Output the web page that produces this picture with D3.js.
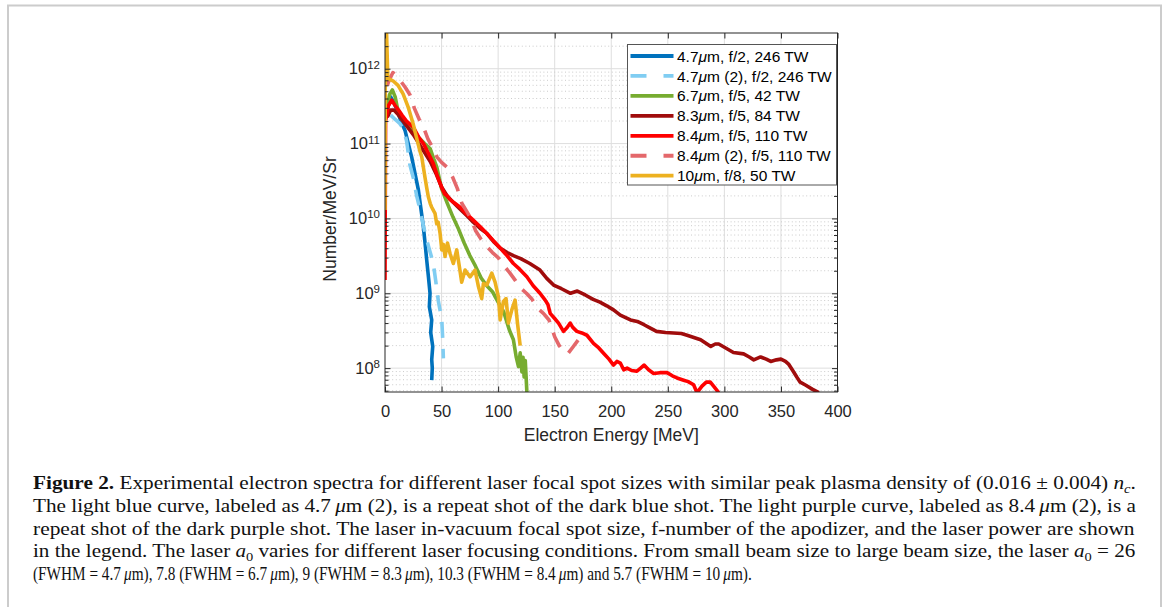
<!DOCTYPE html>
<html>
<head>
<meta charset="utf-8">
<script src="https://cdnjs.cloudflare.com/ajax/libs/d3/7.8.5/d3.min.js"></script>
<style>
  body { margin: 0; background: #fff; }
  svg { display: block; }
</style>
</head>
<body>
<div id="chart"></div>
<script>
(function(){
  'use strict';

  // tick values
  var xTicks = [0, 50, 100, 150, 200, 250, 300, 350, 400];
  var yTicks = [1e8, 1e9, 1e10, 1e11, 1e12];

  // legend labels, in plot order
  var seriesLabels = [
    '4.7μm, f/2, 246 TW',
    '4.7μm (2), f/2, 246 TW',
    '6.7μm, f/5, 42 TW',
    '8.3μm, f/5, 84 TW',
    '8.4μm, f/5, 110 TW',
    '8.4μm (2), f/5, 110 TW',
    '10μm, f/8, 50 TW'
  ];

  // electron energy [MeV] and Number/MeV/Sr
  var energy_47 = [2, 5, 8, 11, 14, 17.7, 20.6, 23.6, 26.5, 29.5, 31.6, 33.9, 35.4, 36.9, 38.5, 39.8, 39.2, 41.3, 40.4, 42.2, 41.3, 41.8, 41.3];
  var number_47 = [2.8e11, 4.2e11, 3.5e11, 2.7e11, 2.0e11, 1.5e11, 1.0e11, 6.6e10, 4.0e10, 2.4e10, 1.4e10, 7.8e9, 4.7e9, 2.75e9, 1.6e9, 1.0e9, 6.6e8, 4.4e8, 3.0e8, 1.95e8, 1.3e8, 1.0e8, 6.9e7];

  var energy_47b = [5, 9, 13, 16, 19, 22, 25, 28, 31, 34, 37, 40, 42.7, 45, 47.2, 49, 50.2, 51, 51.6];
  var number_47b = [2.4e11, 2.1e11, 1.86e11, 1.6e11, 1.1e11, 5.2e10, 3.5e10, 2.0e10, 1.3e10, 7.9e9, 5.1e9, 3.5e9, 2.5e9, 1.4e9, 7.8e8, 5.6e8, 4.4e8, 2.5e8, 1.35e8];

  var energy_67 = [1, 4, 6.5, 9, 12, 15, 20, 25, 30, 35, 40, 43, 45.7, 50, 55, 60, 65, 70, 75, 80, 85, 90, 95, 100, 105, 110, 113.5, 116, 118, 119.5, 121, 122, 123, 124, 125.5];
  var number_67 = [2.5e11, 4.5e11, 5.2e11, 4.2e11, 2.5e11, 2.1e11, 1.8e11, 1.5e11, 1.2e11, 1.0e11, 8.5e10, 6.3e10, 4.9e10, 2.5e10, 1.6e10, 1.05e10, 7.2e9, 4.7e9, 3.2e9, 2.3e9, 1.6e9, 1.26e9, 1.05e9, 7.6e8, 5.6e8, 3.2e8, 2.4e8, 1.4e8, 1.05e8, 1.6e8, 8.9e7, 1.4e8, 7.6e7, 1.26e8, 4.5e7];

  var energy_83 = [2, 5, 8, 12, 16, 20, 25, 30, 35, 40, 45, 50, 55, 60, 66, 72, 78, 84, 90, 96, 102, 108, 114, 120, 128, 137, 143, 149, 156, 164, 170, 177, 184, 190, 196, 202, 208, 217, 223, 229, 235, 240, 248, 255, 262, 267, 273, 279, 284, 288, 292, 295, 300, 308, 317, 322, 326, 332, 337, 341, 346, 350, 354, 357, 360, 364, 367, 372, 378, 383.5];
  var number_83 = [2.24e11, 2.8e11, 2.8e11, 2.4e11, 2.0e11, 1.66e11, 1.32e11, 1.0e11, 7.6e10, 5.75e10, 4.0e10, 2.63e10, 2.0e10, 1.66e10, 1.35e10, 1.1e10, 8.9e9, 7.4e9, 6.3e9, 4.9e9, 4.0e9, 3.5e9, 3.16e9, 2.9e9, 2.5e9, 2.04e9, 1.58e9, 1.29e9, 1.15e9, 1.0e9, 1.07e9, 9.5e8, 8.3e8, 7.6e8, 6.8e8, 6.0e8, 5.1e8, 4.4e8, 4.2e8, 3.8e8, 3.4e8, 3.1e8, 3.0e8, 2.95e8, 2.9e8, 2.75e8, 2.57e8, 2.4e8, 2.14e8, 1.95e8, 2.1e8, 2.1e8, 1.9e8, 1.62e8, 1.55e8, 1.41e8, 1.29e8, 1.41e8, 1.32e8, 1.23e8, 1.29e8, 1.32e8, 1.23e8, 1.12e8, 9.5e7, 7.6e7, 6.5e7, 5.9e7, 5.2e7, 4.7e7];

  var energy_84 = [0, 0.5, 3, 6, 9, 12, 15, 19, 25, 30, 34, 38, 42.7, 46, 48.7, 51, 53, 55, 57.5, 62, 66.4, 72, 78, 84, 90, 96, 102, 108, 113.5, 119, 125.4, 131, 137, 141.6, 144, 146, 150, 153.4, 157.8, 161, 163.7, 166, 169.6, 174, 178.5, 184.3, 189, 193.2, 198, 202, 205, 208, 211, 214, 218, 222.7, 226, 229, 233, 237.5, 243, 249.3, 254, 258.1, 264, 268, 272.8, 275.8, 280.2, 284, 287.6, 291, 295];
  var number_84 = [1.5e9, 2.0e11, 3.2e11, 3.8e11, 3.2e11, 2.8e11, 2.4e11, 2.0e11, 1.66e11, 1.2e11, 1.0e11, 7.6e10, 5.4e10, 3.8e10, 2.95e10, 2.4e10, 2.1e10, 2.0e10, 1.78e10, 1.58e10, 1.41e10, 1.15e10, 9.5e9, 7.8e9, 6.3e9, 5.0e9, 4.0e9, 3.16e9, 2.5e9, 2.1e9, 1.66e9, 1.26e9, 1.0e9, 8.1e8, 7.1e8, 5.4e8, 4.6e8, 4.0e8, 3.1e8, 3.5e8, 4.0e8, 3.5e8, 3.1e8, 2.95e8, 2.75e8, 2.14e8, 1.86e8, 1.58e8, 1.32e8, 1.1e8, 1.23e8, 1.17e8, 9.5e7, 1.0e8, 9.3e7, 9.1e7, 1.0e8, 1.1e8, 9.5e7, 8.5e7, 8.7e7, 8.7e7, 7.9e7, 7.4e7, 6.9e7, 6.6e7, 6.0e7, 4.7e7, 5.75e7, 6.5e7, 6.5e7, 5.6e7, 4.7e7];

  var energy_84b = [2, 4, 7, 10, 14, 18, 22, 26, 30, 34, 38, 42, 46, 50, 55, 60, 64, 68, 72, 76, 80, 85, 90, 95, 100, 105, 110, 115, 120, 125, 130, 135, 140, 145, 150, 154, 158, 162, 166, 171];
  var number_84b = [6.0e11, 7.2e11, 8.9e11, 7.9e11, 6.8e11, 5.6e11, 4.5e11, 2.95e11, 2.14e11, 1.66e11, 1.15e11, 8.9e10, 6.6e10, 5.6e10, 4.8e10, 3.5e10, 2.5e10, 1.58e10, 1.26e10, 1.0e10, 6.9e9, 5.25e9, 4.2e9, 3.5e9, 3.0e9, 2.34e9, 1.9e9, 1.5e9, 1.17e9, 1.0e9, 8.3e8, 6.3e8, 5.4e8, 4.4e8, 2.63e8, 2.0e8, 1.66e8, 1.58e8, 1.9e8, 2.4e8];

  var energy_10 = [0, 0.4, 2.5, 7, 11.5, 16, 20.4, 24.8, 27.7, 30.7, 32.5, 35.4, 37, 38.3, 40, 41.3, 43, 44.2, 45.7, 47, 48.7, 50.2, 51.6, 53.1, 55.2, 57.5, 60.4, 63.4, 65.8, 67.8, 70.8, 75.2, 79.6, 82.6, 85.5, 87, 90, 94.4, 97.3, 100.3, 101.8, 104.7, 107, 109.1, 112.1, 115, 117.1, 119.5];
  var number_10 = [1.3e10, 1e13, 7.4e11, 6.9e11, 6.0e11, 4.6e11, 3.1e11, 1.86e11, 1.23e11, 8.1e10, 6.6e10, 3.5e10, 2.5e10, 1.95e10, 1.58e10, 1.41e10, 1.26e10, 1.17e10, 8.5e9, 8.9e9, 6.3e9, 3.8e9, 4.5e9, 3.1e9, 4.7e9, 3.4e9, 2.5e9, 3.8e9, 2.24e9, 1.41e9, 2.04e9, 1.66e9, 2.04e9, 1.23e9, 8.5e8, 1.35e9, 1.29e9, 1.86e9, 1.41e9, 8.9e8, 4.4e8, 7.8e8, 8.5e8, 4.0e8, 6.0e8, 8.1e8, 4.0e8, 2.0e8];

  // caption text, split into styled runs
  var captionLines = [
    [['Figure 2.', 'b'], [' Experimental electron spectra for different laser focal spot sizes with similar peak plasma density of (0.016 \u00b1 0.004) ', ''], ['n', 'i'], ['c', 'isub'], ['.', '']],
    [['The light blue curve, labeled as 4.7\u2009', ''], ['\u03bc', 'i'], ['m (2), is a repeat shot of the dark blue shot. The light purple curve, labeled as 8.4\u2009', ''], ['\u03bc', 'i'], ['m (2), is a', '']],
    [['repeat shot of the dark purple shot. The laser in-vacuum focal spot size, f-number of the apodizer, and the laser power are shown', '']],
    [['in the legend. The laser ', ''], ['a', 'i'], ['0', 'sub'], [' varies for different laser focusing conditions. From small beam size to large beam size, the laser ', ''], ['a', 'i'], ['0', 'sub'], [' = 26', '']],
    [['(FWHM = 4.7\u2009', ''], ['\u03bc', 'i'], ['m), 7.8 (FWHM = 6.7\u2009', ''], ['\u03bc', 'i'], ['m), 9 (FWHM = 8.3\u2009', ''], ['\u03bc', 'i'], ['m), 10.3 (FWHM = 8.4\u2009', ''], ['\u03bc', 'i'], ['m) and 5.7 (FWHM = 10\u2009', ''], ['\u03bc', 'i'], ['m).', '']]
  ];

  // styles
  var seriesColors = ['#0072BD', '#80cdf2', '#77AC30', '#a00c0c', '#ff0000', '#e4686b', '#EDB120'];
  var seriesDashed = [false, true, false, false, false, true, false];

  var series = [
    [energy_47, number_47], [energy_47b, number_47b], [energy_67, number_67],
    [energy_83, number_83], [energy_84, number_84], [energy_84b, number_84b], [energy_10, number_10]
  ].map(function(s, i) {
    return { label: seriesLabels[i], points: d3.zip(s[0], s[1]), color: seriesColors[i], dashed: seriesDashed[i] };
  });

  var W = 1167, H = 607;
  var box = { left: 385, right: 837.5, top: 33, bottom: 392 };
  var axisColor = '#262626';

  var svg = d3.select('#chart').append('svg')
    .attr('width', W).attr('height', H)
    .style('font-family', '"Liberation Sans", Arial, Helvetica, sans-serif');

  // page frame
  svg.append('rect')
    .attr('x', 8).attr('y', 5.5).attr('width', 1153).attr('height', 660)
    .attr('fill', 'none').attr('stroke', '#cccccc').attr('stroke-width', 2);

  var x = d3.scaleLinear().domain([0, 400]).range([box.left, box.right]);
  var y = d3.scaleLog().domain([4.8e7, 3e12]).range([box.bottom, box.top]);

  // minor decades for the log axis
  var yMinor = [];
  for (var k = 7; k <= 12; k++) {
    for (var m = 2; m <= 9; m++) {
      var v = m * Math.pow(10, k);
      if (v > y.domain()[0] && v < y.domain()[1]) yMinor.push(v);
    }
  }

  //grid
  var grid = svg.append('g');
  grid.selectAll('.gx').data(xTicks.slice(1, -1)).enter()
    .append('line')
    .attr('x1', x).attr('x2', x)
    .attr('y1', box.top).attr('y2', box.bottom)
    .attr('stroke', '#dedede');
  grid.selectAll('.gm').data(yMinor).enter()
    .append('line')
    .attr('x1', box.left).attr('x2', box.right)
    .attr('y1', y).attr('y2', y)
    .attr('stroke', '#cbcbcb')
    .attr('stroke-dasharray', '1,2.6');
  grid.selectAll('.gy').data(yTicks).enter()
    .append('line')
    .attr('x1', box.left).attr('x2', box.right)
    .attr('y1', y).attr('y2', y)
    .attr('stroke', '#dedede');

  // curves
  svg.append('clipPath').attr('id', 'plotclip')
    .append('rect')
    .attr('x', box.left).attr('y', box.top)
    .attr('width', box.right - box.left).attr('height', box.bottom - box.top);

  var line = d3.line()
    .x(function(d) { return x(d[0]); })
    .y(function(d) { return y(d[1]); });

  svg.append('g').attr('clip-path', 'url(#plotclip)')
    .selectAll('path').data(series).enter()
    .append('path')
    .attr('d', function(s) { return line(s.points); })
    .attr('fill', 'none')
    .attr('stroke', function(s) { return s.color; })
    .attr('stroke-width', 3.6)
    .attr('stroke-linejoin', 'round')
    .attr('stroke-dasharray', function(s) { return s.dashed ? '16,11' : null; });

  // axes (ticks point inward on all four sides)
  function styleAxis(g) {
    g.select('.domain').remove();
    g.selectAll('.tick line').attr('stroke', axisColor);
    g.selectAll('.tick text').attr('fill', axisColor).attr('font-size', '16.5px');
  }
  var blank = function() { return ''; };

  svg.append('g').attr('transform', 'translate(0,' + box.bottom + ')')
    .call(d3.axisBottom(x).tickValues(xTicks).tickSize(-5.5).tickPadding(13))
    .call(styleAxis)
    .attr('font-family', null);
  svg.append('g').attr('transform', 'translate(0,' + box.top + ')')
    .call(d3.axisTop(x).tickValues(xTicks).tickSize(-5.5).tickFormat(blank))
    .call(styleAxis);

  var gy = svg.append('g').attr('transform', 'translate(' + box.left + ',0)')
    .call(d3.axisLeft(y).tickValues(yTicks).tickSize(-5.5).tickPadding(5))
    .call(styleAxis)
    .attr('font-family', null);
  gy.selectAll('.tick text').each(function(d) {
    var t = d3.select(this).text('');
    t.append('tspan').text('10');
    t.append('tspan').attr('dy', '-0.5em').attr('font-size', '11.5px').text(Math.round(Math.log10(d)));
  });
  svg.append('g').attr('transform', 'translate(' + box.left + ',0)')
    .call(d3.axisLeft(y).tickValues(yMinor).tickSize(-3.5).tickFormat(blank))
    .call(styleAxis);
  svg.append('g').attr('transform', 'translate(' + box.right + ',0)')
    .call(d3.axisRight(y).tickValues(yTicks).tickSize(-5.5).tickFormat(blank))
    .call(styleAxis);
  svg.append('g').attr('transform', 'translate(' + box.right + ',0)')
    .call(d3.axisRight(y).tickValues(yMinor).tickSize(-3.5).tickFormat(blank))
    .call(styleAxis);

  svg.append('rect')
    .attr('x', box.left).attr('y', box.top)
    .attr('width', box.right - box.left).attr('height', box.bottom - box.top)
    .attr('fill', 'none').attr('stroke', axisColor);

  // axis labels
  svg.append('text')
    .attr('x', (box.left + box.right) / 2).attr('y', 441)
    .attr('text-anchor', 'middle').attr('font-size', '17.5px').attr('fill', axisColor)
    .text('Electron Energy [MeV]');
  svg.append('text')
    .attr('transform', 'translate(336,219) rotate(-90)')
    .attr('text-anchor', 'middle').attr('font-size', '17.5px').attr('fill', axisColor)
    .text('Number/MeV/Sr');

  // legend
  var lg = svg.append('g');
  lg.append('rect')
    .attr('x', 627.5).attr('y', 44.5).attr('width', 209).attr('height', 140.5)
    .attr('fill', '#fff').attr('stroke', '#555');
  series.forEach(function(s, i) {
    var cy = 56 + i * 19.95;
    lg.append('line')
      .attr('x1', 630.5).attr('x2', 673.5).attr('y1', cy).attr('y2', cy)
      .attr('stroke', s.color).attr('stroke-width', 3.8)
      .attr('stroke-dasharray', s.dashed ? '16,17' : null);
    var t = lg.append('text')
      .attr('x', 677).attr('y', cy).attr('dy', '0.36em')
      .attr('font-size', '15.5px').attr('fill', '#000');
    var parts = s.label.split('μ');
    t.append('tspan').text(parts[0]);
    t.append('tspan').attr('font-style', 'italic').text('μ');
    t.append('tspan').text(parts[1]);
  });

  // caption: each line squeezed/stretched to the width it has in the figure
  var captionWidths = [1104, 1104, 1102, 1103, 719];
  var cap = svg.append('g')
    .style('font-family', '"Liberation Serif", "Times New Roman", serif')
    .attr('font-size', '19px').attr('fill', '#111');
  captionLines.forEach(function(runs, i) {
    var t = cap.append('text').attr('x', 0).attr('y', 0);
    var shifted = false;
    runs.forEach(function(r) {
      var ts = t.append('tspan').text(r[0]);
      if (r[1] === 'b') ts.attr('font-weight', 'bold');
      if (r[1] === 'i' || r[1] === 'isub') ts.attr('font-style', 'italic');
      if (r[1] === 'sub' || r[1] === 'isub') {
        ts.attr('font-size', '13px').attr('dy', 4);
        shifted = true;
      } else if (shifted) {
        ts.attr('dy', -4);
        shifted = false;
      }
    });
    var natural = t.node().getComputedTextLength();
    t.attr('transform', 'translate(33,' + (489 + i * 22.8) + ') scale(' + (captionWidths[i] / natural) + ',1)');
  });

})();
</script>
</body>
</html>
